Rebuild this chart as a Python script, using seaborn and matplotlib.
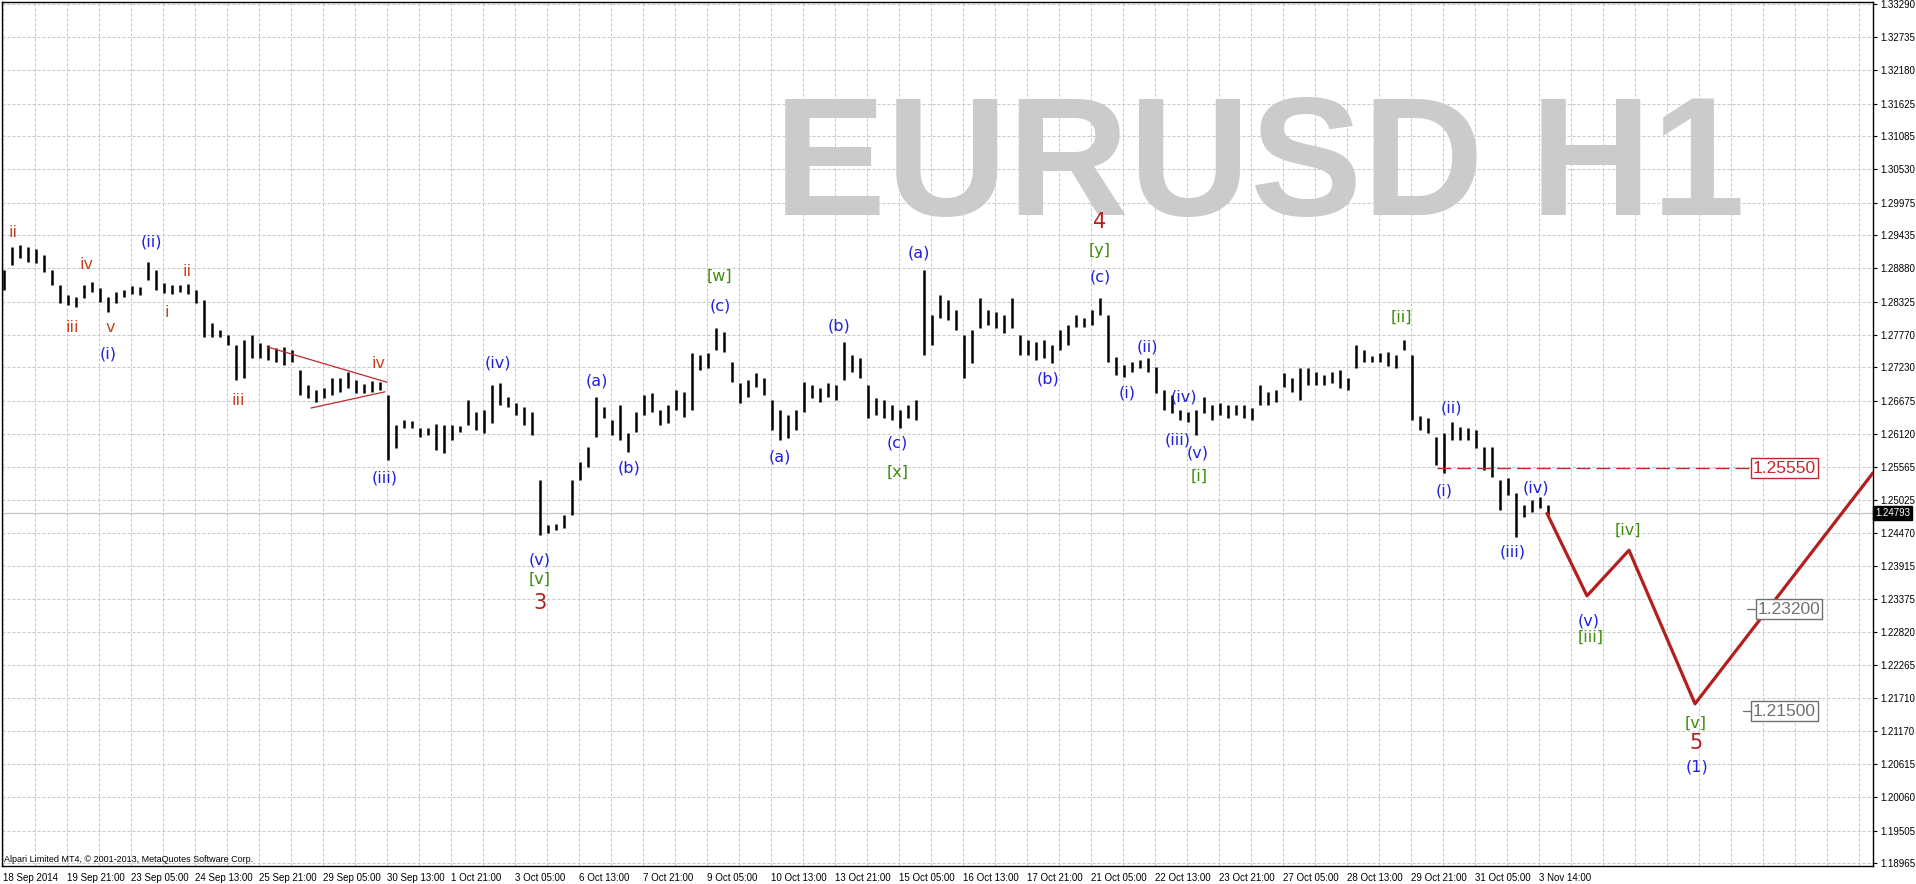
import numpy as np
import matplotlib
matplotlib.use('Agg')
import matplotlib.pyplot as plt
import matplotlib.transforms as mtransforms
import seaborn as sns

# EURUSD H1, one sample every 4 hourly bars: high / low
bar_step = 4
bar_high = [
    1.2885, 1.2923, 1.2927, 1.2923, 1.2920, 1.2910, 1.2885, 1.2860, 1.2843, 1.2840,
    1.2860, 1.2865, 1.2855, 1.2840, 1.2848, 1.2852, 1.2858, 1.2857, 1.2898, 1.2885,
    1.2863, 1.2860, 1.2860, 1.2862, 1.2852, 1.2835, 1.2797, 1.2785, 1.2777, 1.2760,
    1.2768, 1.2777, 1.2763, 1.2760, 1.2755, 1.2757, 1.2752, 1.2718, 1.2693, 1.2685,
    1.2688, 1.2705, 1.2705, 1.2715, 1.2702, 1.2695, 1.2700, 1.2698, 1.2677, 1.2627,
    1.2635, 1.2633, 1.2622, 1.2622, 1.2628, 1.2627, 1.2627, 1.2625, 1.2668, 1.2648,
    1.2652, 1.2693, 1.2697, 1.2673, 1.2663, 1.2657, 1.2648, 1.2535, 1.2460, 1.2462,
    1.2477, 1.2535, 1.2565, 1.2590, 1.2673, 1.2657, 1.2635, 1.2660, 1.2613, 1.2648,
    1.2677, 1.2680, 1.2652, 1.2660, 1.2685, 1.2682, 1.2747, 1.2743, 1.2747, 1.2788,
    1.2782, 1.2732, 1.2697, 1.2702, 1.2713, 1.2705, 1.2668, 1.2652, 1.2643, 1.2652,
    1.2698, 1.2693, 1.2688, 1.2697, 1.2693, 1.2765, 1.2743, 1.2738, 1.2693, 1.2672,
    1.2668, 1.2660, 1.2652, 1.2660, 1.2668, 1.2885, 1.2810, 1.2843, 1.2835, 1.2818,
    1.2777, 1.2785, 1.2838, 1.2818, 1.2815, 1.2810, 1.2838, 1.2777, 1.2768, 1.2765,
    1.2768, 1.2760, 1.2785, 1.2793, 1.2810, 1.2805, 1.2818, 1.2838, 1.2810, 1.2740,
    1.2727, 1.2732, 1.2735, 1.2738, 1.2723, 1.2685, 1.2677, 1.2652, 1.2648, 1.2652,
    1.2673, 1.2660, 1.2663, 1.2660, 1.2660, 1.2660, 1.2655, 1.2693, 1.2682, 1.2685,
    1.2713, 1.2705, 1.2722, 1.2722, 1.2715, 1.2710, 1.2715, 1.2718, 1.2705, 1.2760,
    1.2752, 1.2742, 1.2747, 1.2748, 1.2743, 1.2768, 1.2743, 1.2642, 1.2638, 1.2607,
    1.2613, 1.2632, 1.2623, 1.2622, 1.2618, 1.2590, 1.2590, 1.2535, 1.2538, 1.2513,
    1.2493, 1.2502, 1.2507, 1.2493,
]
bar_low = [
    1.2852, 1.2893, 1.2905, 1.2898, 1.2897, 1.2882, 1.2860, 1.2830, 1.2827, 1.2823,
    1.2838, 1.2848, 1.2832, 1.2815, 1.2830, 1.2840, 1.2845, 1.2843, 1.2868, 1.2852,
    1.2847, 1.2845, 1.2848, 1.2845, 1.2830, 1.2773, 1.2773, 1.2773, 1.2760, 1.2702,
    1.2705, 1.2738, 1.2738, 1.2735, 1.2732, 1.2727, 1.2732, 1.2677, 1.2672, 1.2665,
    1.2672, 1.2677, 1.2682, 1.2688, 1.2680, 1.2680, 1.2682, 1.2685, 1.2568, 1.2588,
    1.2622, 1.2622, 1.2607, 1.2610, 1.2585, 1.2580, 1.2602, 1.2615, 1.2627, 1.2618,
    1.2613, 1.2630, 1.2660, 1.2657, 1.2643, 1.2627, 1.2610, 1.2443, 1.2447, 1.2452,
    1.2455, 1.2477, 1.2535, 1.2557, 1.2607, 1.2638, 1.2610, 1.2602, 1.2582, 1.2615,
    1.2643, 1.2648, 1.2627, 1.2630, 1.2652, 1.2640, 1.2652, 1.2718, 1.2722, 1.2752,
    1.2748, 1.2698, 1.2663, 1.2673, 1.2690, 1.2677, 1.2618, 1.2602, 1.2605, 1.2618,
    1.2648, 1.2672, 1.2665, 1.2673, 1.2668, 1.2702, 1.2715, 1.2705, 1.2638, 1.2643,
    1.2638, 1.2635, 1.2622, 1.2638, 1.2635, 1.2743, 1.2760, 1.2805, 1.2802, 1.2785,
    1.2705, 1.2730, 1.2788, 1.2793, 1.2788, 1.2780, 1.2788, 1.2743, 1.2743, 1.2735,
    1.2738, 1.2730, 1.2752, 1.2760, 1.2790, 1.2790, 1.2793, 1.2810, 1.2732, 1.2710,
    1.2707, 1.2715, 1.2722, 1.2715, 1.2680, 1.2652, 1.2647, 1.2635, 1.2632, 1.2610,
    1.2647, 1.2635, 1.2643, 1.2638, 1.2643, 1.2638, 1.2635, 1.2660, 1.2660, 1.2665,
    1.2690, 1.2682, 1.2668, 1.2693, 1.2693, 1.2693, 1.2697, 1.2688, 1.2685, 1.2722,
    1.2732, 1.2732, 1.2732, 1.2725, 1.2722, 1.2752, 1.2635, 1.2618, 1.2613, 1.2560,
    1.2547, 1.2602, 1.2602, 1.2602, 1.2588, 1.2552, 1.2540, 1.2485, 1.2510, 1.2440,
    1.2473, 1.2482, 1.2488, 1.2477,
]
hours = np.arange(len(bar_high)) * bar_step + 2
last_price = 1.24793

date_labels = ['18 Sep 2014', '19 Sep 21:00', '23 Sep 05:00', '24 Sep 13:00', '25 Sep 21:00',
               '29 Sep 05:00', '30 Sep 13:00', '1 Oct 21:00', '3 Oct 05:00', '6 Oct 13:00',
               '7 Oct 21:00', '9 Oct 05:00', '10 Oct 13:00', '13 Oct 21:00', '15 Oct 05:00',
               '16 Oct 13:00', '17 Oct 21:00', '21 Oct 05:00', '22 Oct 13:00', '23 Oct 21:00',
               '27 Oct 05:00', '28 Oct 13:00', '29 Oct 21:00', '31 Oct 05:00', '3 Nov 14:00']
price_ticks = [1.33290, 1.32735, 1.32180, 1.31625, 1.31085, 1.30530, 1.29975, 1.29435,
               1.28880, 1.28325, 1.27770, 1.27230, 1.26675, 1.26120, 1.25565, 1.25025,
               1.24470, 1.23915, 1.23375, 1.22820, 1.22265, 1.21710, 1.21170, 1.20615,
               1.20060, 1.19505, 1.18965]

# forecast path
proj_hours = [773.5, 793.5, 814.5, 847.5, 936.5]
proj_price = [1.24793, 1.2342, 1.2418, 1.2162, 1.2547]

# wave labels (hour, price, text)
red_labels = [(6.5, 1.2948, 'ii'), (43.5, 1.2895, 'iv'), (36, 1.2790, 'iii'), (55, 1.2790, 'v'),
              (93.5, 1.2882, 'ii'), (83.5, 1.2815, 'i'), (119, 1.2667, 'iii'), (189.5, 1.2730, 'iv')]
blue_labels = [(54, 1.2745, '(i)'), (75.5, 1.2932, '(ii)'), (192.5, 1.2538, '(iii)'),
               (249, 1.2730, '(iv)'), (270, 1.2402, '(v)'), (298.5, 1.2700, '(a)'),
               (314.5, 1.2555, '(b)'), (360, 1.2825, '(c)'), (390, 1.2573, '(a)'),
               (419.5, 1.2792, '(b)'), (448.5, 1.2597, '(c)'), (459.5, 1.2913, '(a)'),
               (524, 1.2703, '(b)'), (550, 1.2873, '(c)'), (573.5, 1.2757, '(ii)'),
               (563.5, 1.2680, '(i)'), (592, 1.2673, '(iv)'), (589, 1.2602, '(iii)'),
               (599, 1.2580, '(v)'), (725.5, 1.2655, '(ii)'), (722, 1.2517, '(i)'),
               (756.5, 1.2415, '(iii)'), (768, 1.2522, '(iv)'), (794.5, 1.2300, '(v)'),
               (848.5, 1.2057, '(1)')]
green_labels = [(270, 1.2370, '[v]'), (359.5, 1.2875, '[w]'), (449, 1.2548, '[x]'),
                (550, 1.2918, '[y]'), (599.5, 1.2542, '[i]'), (700.5, 1.2807, '[ii]'),
                (814, 1.2452, '[iv]'), (795.5, 1.2273, '[iii]'), (848, 1.2130, '[v]')]
big_labels = [(270, 1.2330, '3'), (550, 1.2965, '4'), (848, 1.2097, '5')]

# triangle
tri_upper = ([133.5, 193.5], [1.2757, 1.2698])
tri_lower = ([155.5, 192.5], [1.2655, 1.2682])

level_red = 1.25550
level_gray = [1.23200, 1.21500]

RED = '#b41e1e'
SMALL_RED = '#c8401e'
BLUE = '#1f1fe0'
GREEN = '#3f8c0c'
GRID = '#c8c8c8'

sns.set_style('white')
plt.rcParams['font.family'] = ['DejaVu Sans']

fig = plt.figure(figsize=(19.16, 8.84), dpi=100)
ax = fig.add_axes([2 / 1916, 18 / 884, 1871 / 1916, 864 / 884])
ax.set_xlim(1, 936.5)
ax.set_ylim(1.18917, 1.33317)

# grid
grid_pos = np.arange(1.75, 936, 16)
for g in grid_pos:
    ax.axvline(g, color=GRID, lw=0.75, ls=(0, (2.9, 1.9)), zorder=0.5)
for p in price_ticks:
    ax.axhline(p, color=GRID, lw=0.75, ls=(0, (2.9, 1.9)), zorder=0.5)

# watermark
ax.text(630, 1.2977, 'EURUSD H1', ha='center', va='baseline', fontsize=121,
        fontweight='bold', family='Liberation Sans', color='#cbcbcb', zorder=0.6)

# current price line
ax.axhline(last_price, color='#c4c4c4', lw=0.9, zorder=0.7)

# bars
ax.vlines(hours, bar_low, bar_high, color='black', lw=1.8, zorder=2)

# triangle
ax.plot(*tri_upper, color='#c0282d', lw=0.9, zorder=3)
ax.plot(*tri_lower, color='#c0282d', lw=0.9, zorder=3)

# forecast
sns.lineplot(x=proj_hours, y=proj_price, ax=ax, color=RED, lw=2.3, zorder=3,
             sort=False, estimator=None)

# level line and boxes
ax.plot([718.5, 876], [level_red, level_red], color='#c0282d', lw=1.0,
        ls=(0, (10, 4.3)), zorder=3)
ax.text(892.25, level_red, '1.25550', ha='center', va='center', fontsize=12.5,
        family='Liberation Sans', color='#c0282d', zorder=4,
        bbox=dict(boxstyle='square,pad=0.12', fc='white', ec='#c0282d', lw=1))
ax.plot([873.5, 878.5], [level_gray[0]] * 2, color='#707070', lw=0.9, zorder=3)
ax.text(894.5, level_gray[0], '1.23200', ha='center', va='center', fontsize=12.5,
        family='Liberation Sans', color='#707070', zorder=4,
        bbox=dict(boxstyle='square,pad=0.12', fc='white', ec='#707070', lw=1))
ax.plot([871.5, 876], [level_gray[1]] * 2, color='#707070', lw=0.9, zorder=3)
ax.text(892.25, level_gray[1], '1.21500', ha='center', va='center', fontsize=12.5,
        family='Liberation Sans', color='#707070', zorder=4,
        bbox=dict(boxstyle='square,pad=0.12', fc='white', ec='#707070', lw=1))

# wave labels
for h, p, t in red_labels:
    ax.text(h, p, t, ha='center', va='center', fontsize=11.5, color=SMALL_RED, zorder=4)
for h, p, t in blue_labels:
    ax.text(h, p, t, ha='center', va='center', fontsize=11.5, color=BLUE, zorder=4)
for h, p, t in green_labels:
    ax.text(h, p, t, ha='center', va='center', fontsize=11.5, color=GREEN, zorder=4)
for h, p, t in big_labels:
    ax.text(h, p, t, ha='center', va='center', fontsize=15, color=RED, zorder=4)

# axes
for s in ax.spines.values():
    s.set_color('black')
    s.set_linewidth(1)
ax.yaxis.tick_right()
ax.set_yticks(price_ticks)
ax.set_yticklabels([f'{p:.5f}' for p in price_ticks], family='Liberation Sans', fontsize=7)
date_pos = np.arange(len(date_labels)) * 32 + 1.75
ax.set_xticks(date_pos)
ax.set_xticklabels(date_labels, ha='left', family='Liberation Sans', fontsize=7)
ax.tick_params(axis='both', length=3, width=0.8, pad=2, colors='black', direction='out')
ax.set_xlabel('')
ax.set_ylabel('')

trans = mtransforms.blended_transform_factory(ax.transAxes, ax.transData)
ax.text(1.0 + 2 / 1871, last_price, '1.24793', transform=trans, ha='left', va='center',
        fontsize=7, family='Liberation Sans', color='white', zorder=5,
        bbox=dict(boxstyle='square,pad=0.2', fc='black', ec='black'))

ax.text(2 / 1871, 0.008, 'Alpari Limited MT4, \u00a9 2001-2013, MetaQuotes Software Corp.',
        transform=ax.transAxes, ha='left', va='center', fontsize=6.5,
        family='Liberation Sans', color='black')

fig.savefig('out.png', dpi=100)
plt.close(fig)
